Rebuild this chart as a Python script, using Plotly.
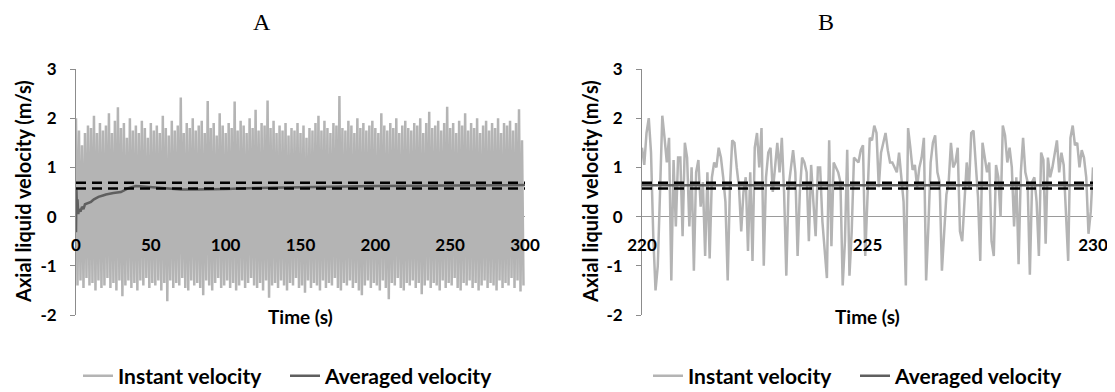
import plotly.graph_objects as go

# ---------------- data ----------------
# Panel A: envelope of the dense instantaneous signal (upper peaks at even seconds, lower troughs at odd seconds)
a_upper = [2.0, 1.75, 1.45, 1.7, 1.85, 1.8, 2.05, 1.7, 1.9, 1.75,
           1.85, 2.1, 1.7, 1.95, 2.22, 1.8, 1.9, 1.6, 2.0, 1.75,
           1.85, 1.7, 1.95, 1.8, 1.6, 1.9, 1.75, 1.85, 1.7, 2.05,
           1.8, 1.65, 1.95, 1.75, 1.85, 2.42, 1.7, 1.9, 1.8, 2.0,
           1.75, 1.85, 1.95, 1.7, 2.35, 1.8, 1.9, 1.65, 2.1, 1.85,
           1.7, 1.9, 1.8, 2.34, 1.75, 1.95, 1.85, 1.7, 2.0, 1.8,
           2.17, 1.75, 1.9, 1.85, 2.36, 1.8, 1.95, 1.7, 1.85, 1.75,
           1.9, 1.65, 1.8, 1.75, 1.9, 1.7, 1.85, 1.6, 1.8, 1.75,
           1.9, 2.05, 1.75, 1.95, 1.8, 1.7, 1.9, 1.85, 2.45, 1.8,
           1.75, 1.95, 1.85, 1.7, 2.0, 1.8, 1.9, 1.75, 1.85, 1.95,
           1.8, 1.7, 2.1, 1.85, 1.75, 1.9, 1.8, 2.0, 1.7, 1.85,
           1.95, 1.8, 1.75, 1.9, 1.85, 2.0, 1.7, 1.9, 2.13, 1.8,
           1.85, 1.95, 1.75, 1.9, 2.23, 1.8, 1.9, 1.7, 1.95, 1.85,
           2.1, 1.75, 1.9, 1.8, 2.0, 1.7, 1.85, 1.95, 1.75, 1.9,
           1.8, 2.0, 1.7, 1.9, 1.85, 1.95, 1.75, 1.9, 2.18, 1.55]
a_lower = [-1.4, -1.3, -1.45, -1.25, -1.4, -1.35, -1.5, -1.3, -1.45, -1.4,
           -1.25, -1.45, -1.35, -1.5, -1.3, -1.62, -1.4, -1.3, -1.45, -1.35,
           -1.5, -1.3, -1.4, -1.25, -1.45, -1.35, -1.4, -1.3, -1.5, -1.35,
           -1.72, -1.3, -1.45, -1.35, -1.4, -1.25, -1.45, -1.5, -1.3, -1.4,
           -1.35, -1.45, -1.6, -1.3, -1.4, -1.5, -1.35, -1.25, -1.45, -1.4,
           -1.3, -1.45, -1.35, -1.5, -1.4, -1.3, -1.45, -1.35, -1.25, -1.4,
           -1.45, -1.35, -1.5, -1.3, -1.65, -1.4, -1.35, -1.45, -1.3, -1.4,
           -1.5, -1.35, -1.4, -1.25, -1.45, -1.4, -1.55, -1.3, -1.45, -1.35,
           -1.4, -1.5, -1.3, -1.45, -1.35, -1.4, -1.25, -1.45, -1.5, -1.35,
           -1.4, -1.3, -1.45, -1.35, -1.5, -1.6, -1.4, -1.3, -1.45, -1.35,
           -1.4, -1.5, -1.3, -1.45, -1.68, -1.35, -1.4, -1.25, -1.45, -1.5,
           -1.35, -1.4, -1.3, -1.45, -1.35, -1.58, -1.4, -1.3, -1.45, -1.35,
           -1.4, -1.5, -1.3, -1.45, -1.35, -1.4, -1.25, -1.45, -1.5, -1.35,
           -1.4, -1.3, -1.45, -1.35, -1.5, -1.4, -1.3, -1.45, -1.35, -1.4,
           -1.5, -1.3, -1.45, -1.35, -1.4, -1.25, -1.45, -1.3, -1.52, -1.4]

# Panel A: running (averaged) velocity
a_avg_t = [0, 0.3, 0.6, 1, 1.5, 2, 3, 4, 5, 6, 8, 10, 12, 15, 18, 20, 25, 30, 35, 40,
           45, 50, 60, 70, 80, 90, 100, 120, 150, 200, 250, 300]
a_avg_v = [-0.32, 0.55, 0.2, 0.35, 0.05, 0.15, 0.1, 0.2, 0.15, 0.25, 0.28, 0.3, 0.35, 0.4,
           0.43, 0.45, 0.48, 0.5, 0.58, 0.62, 0.61, 0.6, 0.57, 0.55, 0.55, 0.55, 0.56,
           0.58, 0.6, 0.62, 0.63, 0.64]

# Panel B: instantaneous velocity 220-230 s, sampled every 0.05 s
b_start = 220.0
b_step = 0.05
b_inst = [1.4, 1.05, 1.7, 2.0, 1.3, -0.4, -1.5, -1.0, 0.5, 2.05,
          1.6, 1.1, 1.6, -1.3, 1.15, -0.2, 1.2, 1.2, -0.4, 1.5,
          1.2, -0.2, 1.0, -1.1, 0.9, 1.15, 0.2, 0.7, -0.8, 0.9,
          -0.85, 0.8, 1.1, 1.0, 1.4, 1.2, 0.8, 0.3, -1.3, 0.6,
          1.55, 1.5, 1.0, 0.6, -0.3, 0.5, 0.8, -0.7, 0.9, -0.9,
          1.4, 1.7, 1.0, 1.8, -1.0, 0.8, 1.3, 1.4, 0.5, 1.1,
          1.5, 0.9, 1.6, 0.5, -1.2, 0.6,
          1.0, 1.35, 0.9, -0.8, 0.5, 1.2, 1.1, 0.9, -0.5, 1.05,
          0.3, -0.4, 1.0, 1.0, -0.1, -0.75, -1.25, 1.55, -0.6, 1.1,
          1.0, 0.9, 0.7, -1.4, -0.5, 1.36, -1.2, -0.3, 1.2, 1.15,
          1.1, 1.35, 1.45, -0.8, 0.5, 1.6, 1.55, 1.85, 1.7, 0.6,
          1.3, 1.5, 1.7, 1.35, 1.1, 1.1, 1.0, 0.9, 1.3, 0.8,
          0.3, -1.4, 1.8, 1.4, 0.95, 1.05, 0.6, 1.0, 1.2, 1.6,
          -1.3, -0.2, 1.1, 1.5, 1.65, 0.9, 0.7,
          -1.1, -0.4, 0.45, 0.7, 1.5, 1.0, 1.1, 1.4, -0.3, -0.5,
          0.2, 1.1, 0.6, 1.7, 1.75, 1.0, 0.4, -0.9, 1.5, 1.2,
          0.9, 1.1, -0.5, -0.8, 1.05, 0.8, 0.0, 1.85, 1.65, 1.1,
          1.4, 1.0, -0.2, 0.8, -0.97, 0.9, 1.6, 0.9, 0.7, -1.18,
          0.7, 0.8, 0.3, -0.8, 1.3, 1.15, -0.55, 1.2, 0.8, 1.0,
          1.3, 1.55, 0.9, 1.3, 1.05, 0.2, -0.9, 1.6, 1.85, 1.45,
          1.5, 1.0, 1.35, 1.2, 0.8, -0.35, 0.1, 1.0]
b_avg = 0.635

# confidence bounds (dashed lines)
upper_bound = 0.69
lower_bound = 0.57

a_range = [0, 300]
b_range = [220, 230]
y_range = [-2, 3]
a_xticks = [0, 50, 100, 150, 200, 250, 300]
b_xticks = [220, 225, 230]
yticks = [-2, -1, 0, 1, 2, 3]
ytick_text = ["-2", "-1", "0", "1", "2", "3"]
panel_titles = ["A", "B"]
series_names = ["Instant velocity", "Averaged velocity"]

# ---------------- build series ----------------
a_t, a_v = [], []
for i in range(len(a_upper)):
    a_t.append(2 * i)
    a_v.append(a_upper[i])
    a_t.append(2 * i + 1)
    a_v.append(a_lower[i])

b_t = [b_start + i * b_step for i in range(len(b_inst))]

INST = "#b4b4b4"
AVG = "#5f5f5f"
AXC = "#8c8c8c"
FONT = "Lato, 'Open Sans', sans-serif"

fig = go.Figure()

# Panel A
fig.add_trace(go.Scatter(x=a_t, y=a_v, mode="lines", name=series_names[0],
                         line=dict(color=INST, width=2.5), xaxis="x", yaxis="y", legend="legend"))
fig.add_trace(go.Scatter(x=a_avg_t, y=a_avg_v, mode="lines", name=series_names[1],
                         line=dict(color=AVG, width=2.5), xaxis="x", yaxis="y", legend="legend"))
for b in (upper_bound, lower_bound):
    fig.add_trace(go.Scatter(x=a_range, y=[b, b], mode="lines", showlegend=False,
                             line=dict(color="black", width=2.5, dash="10px,6px"),
                             xaxis="x", yaxis="y"))

# Panel B
fig.add_trace(go.Scatter(x=b_t, y=b_inst, mode="lines", name=series_names[0],
                         line=dict(color=INST, width=2.5), xaxis="x2", yaxis="y2", legend="legend2"))
fig.add_trace(go.Scatter(x=b_range, y=[b_avg, b_avg], mode="lines", name=series_names[1],
                         line=dict(color=AVG, width=2.5), xaxis="x2", yaxis="y2", legend="legend2"))
for b in (upper_bound, lower_bound):
    fig.add_trace(go.Scatter(x=b_range, y=[b, b], mode="lines", showlegend=False,
                             line=dict(color="black", width=2.5, dash="10px,6px"),
                             xaxis="x2", yaxis="y2"))

# page body has an 8px margin: figure is sized to the remaining window area
OFF = 8
W, H = 1115 - OFF, 392 - OFF


def px(xp):
    return (xp - OFF) / W


def py(yp):
    return 1 - (yp - OFF) / H


dA = [px(76), px(525)]
dB = [px(642), px(1093)]
y_top = py(69)
y_bot = py(315)
zero_pos = y_bot + (y_top - y_bot) * (0 - y_range[0]) / (y_range[1] - y_range[0])

xcommon = dict(showline=False, showgrid=False, zeroline=False, ticks="", automargin=False,
               anchor="free", position=zero_pos, ticklabelstandoff=16,
               tickfont=dict(family=FONT, size=17, color="black", weight="bold"))
ycommon = dict(range=y_range, tickvals=yticks, ticktext=ytick_text, showline=True,
               linecolor=AXC, linewidth=1, automargin=False,
               ticks="outside", ticklen=5, tickcolor=AXC, showgrid=False,
               zeroline=True, zerolinecolor="#9a9a9a", zerolinewidth=1,
               domain=[y_bot, y_top], ticklabelstandoff=10,
               tickfont=dict(family=FONT, size=17, color="black", weight="bold"))

LEGFONT = dict(family=FONT, size=21, color="black", weight="bold")
legcommon = dict(orientation="h", xanchor="left", yanchor="middle", font=LEGFONT,
                 itemwidth=30, tracegroupgap=0, bgcolor="rgba(0,0,0,0)", borderwidth=0,
                 entrywidth=162, entrywidthmode="pixels")
fig.update_layout(
    template="none",
    width=W, height=H, margin=dict(l=0, r=0, t=0, b=0, pad=0, autoexpand=False),
    paper_bgcolor="white", plot_bgcolor="white", showlegend=True,
    xaxis=dict(domain=dA, range=a_range, tickvals=a_xticks, **xcommon),
    yaxis=dict(anchor="x", **ycommon),
    xaxis2=dict(domain=dB, range=b_range, tickvals=b_xticks, **xcommon),
    yaxis2=dict(anchor="x2", **ycommon),
    legend=dict(x=px(78), y=py(376), **legcommon),
    legend2=dict(x=px(648), y=py(376), **legcommon),
)

ann = []
for title, xc in zip(panel_titles, [262, 826]):
    ann.append(dict(text=title, x=px(xc), y=py(22), xref="paper", yref="paper",
                    xanchor="center", yanchor="middle", showarrow=False,
                    font=dict(family="'Liberation Serif', 'Times New Roman', serif",
                              size=24, color="black")))
for xc in [(76 + 525) / 2, (642 + 1093) / 2]:
    ann.append(dict(text="Time (s)", x=px(xc), y=py(316), xref="paper", yref="paper",
                    xanchor="center", yanchor="middle", showarrow=False,
                    font=dict(family=FONT, size=19, color="black", weight="bold")))
for xc in [23, 590]:
    ann.append(dict(text="Axial liquid velocity (m/s)", x=px(xc), y=py(192), xref="paper",
                    yref="paper", xanchor="center", yanchor="middle", textangle=-90,
                    showarrow=False,
                    font=dict(family=FONT, size=20, color="black", weight="bold")))
fig.update_layout(annotations=ann)

fig.write_html("out.html")
